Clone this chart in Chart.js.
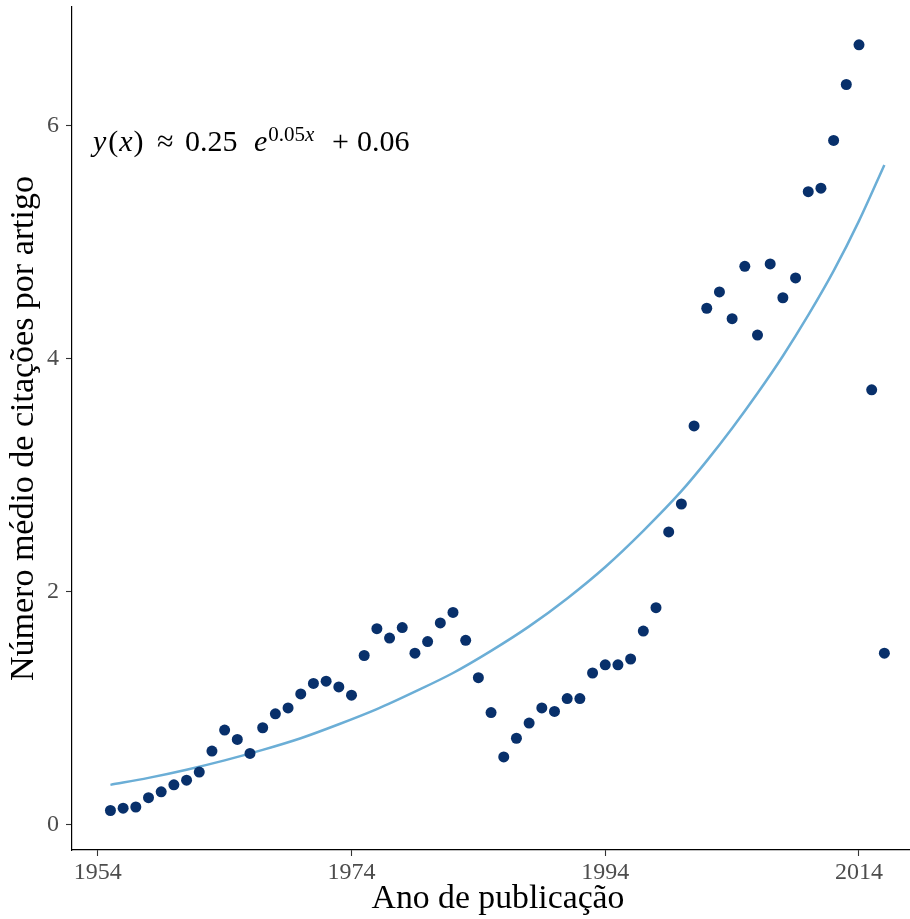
<!DOCTYPE html>
<html>
<head>
<meta charset="utf-8">
<script src="https://cdn.jsdelivr.net/npm/chart.js@4.4.1/dist/chart.umd.min.js"></script>
<style>
  html, body { margin: 0; padding: 0; background: #fff; }
  #citChart { display: block; }
</style>
</head>
<body>
<canvas id="citChart" width="910" height="919"></canvas>
<script>
const years = [
  1955, 1956, 1957, 1958, 1959, 1960, 1961, 1962, 1963, 1964,
  1965, 1966, 1967, 1968, 1969, 1970, 1971, 1972, 1973, 1974,
  1975, 1976, 1977, 1978, 1979, 1980, 1981, 1982, 1983, 1984,
  1985, 1986, 1987, 1988, 1989, 1990, 1991, 1992, 1993, 1994,
  1995, 1996, 1997, 1998, 1999, 2000, 2001, 2002, 2003, 2004,
  2005, 2006, 2007, 2008, 2009, 2010, 2011, 2012, 2013, 2014,
  2015, 2016
];
const meanCitations = [
  0.12, 0.14, 0.15, 0.23, 0.28, 0.34, 0.38, 0.45, 0.63, 0.81,
  0.73, 0.61, 0.83, 0.95, 1.00, 1.12, 1.21, 1.23, 1.18, 1.11,
  1.45, 1.68, 1.60, 1.69, 1.47, 1.57, 1.73, 1.82, 1.58, 1.26,
  0.96, 0.58, 0.74, 0.87, 1.00, 0.97, 1.08, 1.08, 1.30, 1.37,
  1.37, 1.42, 1.66, 1.86, 2.51, 2.75, 3.42, 4.43, 4.57, 4.34,
  4.79, 4.20, 4.81, 4.52, 4.69, 5.43, 5.46, 5.87, 6.35, 6.69,
  3.73, 1.47
];

// fitted exponential trend
const fitYears = [
  1955, 1958, 1961, 1964, 1967, 1970, 1973, 1976, 1979, 1982,
  1985, 1988, 1991, 1994, 1997, 2000, 2002, 2004, 2006, 2008,
  2010, 2012, 2014, 2016
];
const fitValues = [
  0.34, 0.40, 0.47, 0.55, 0.64, 0.74, 0.86, 0.99, 1.14, 1.30,
  1.49, 1.70, 1.94, 2.21, 2.52, 2.86, 3.12, 3.40, 3.70, 4.02,
  4.37, 4.75, 5.18, 5.66
];

const xTicks = [1954, 1974, 1994, 2014];
const yTicks = [0, 2, 4, 6];

const SERIF = '"Liberation Serif", "DejaVu Serif", serif';

const scatterPoints = years.map((y, i) => ({ x: y, y: meanCitations[i] }));
const fitPoints = fitYears.map((y, i) => ({ x: y, y: fitValues[i] }));

// font size giving a text the requested width
function fitFont(ctx, text, width) {
  ctx.font = `100px ${SERIF}`;
  return 100 * width / ctx.measureText(text).width;
}

// y(x) ≈ 0.25 e^{0.05x} + 0.06
function drawEquation(ctx, base) {
  let cx = 0;
  const put = (text, x, italic, size, dy) => {
    if (x !== null) cx = x;
    ctx.font = `${italic ? 'italic ' : ''}${size}px ${SERIF}`;
    ctx.fillText(text, cx, base + (dy || 0));
    cx += ctx.measureText(text).width;
  };
  put('y', 93, true, 30);
  put('(', cx + 2, false, 30);
  put('x', cx + 1, true, 30);
  put(')', cx + 1, false, 30);
  put('\u2248', 157, false, 30);
  put('0.25', 185, false, 30);
  put('e', 254, true, 30);
  put('0.05', cx + 1, false, 21, -10);
  put('x', cx, true, 21, -10);
  put('+', 332, false, 30);
  put('0.06', 357, false, 30);
}

const labelsPlugin = {
  id: 'labelsPlugin',
  afterDraw(chart) {
    const ctx = chart.ctx;
    const area = chart.chartArea;
    ctx.save();
    ctx.fillStyle = '#000';
    ctx.textBaseline = 'alphabetic';

    const xTitle = 'Ano de publicação';
    ctx.font = `${fitFont(ctx, xTitle, 253)}px ${SERIF}`;
    ctx.textAlign = 'center';
    ctx.fillText(xTitle, 498, 908);

    const yTitle = 'Número médio de citações por artigo';
    ctx.font = `${fitFont(ctx, yTitle, 505)}px ${SERIF}`;
    ctx.save();
    ctx.translate(33, (area.top + area.bottom) / 2);
    ctx.rotate(-Math.PI / 2);
    ctx.fillText(yTitle, 0, 0);
    ctx.restore();

    ctx.textAlign = 'left';
    drawEquation(ctx, 151);
    ctx.restore();
  }
};

new Chart(document.getElementById('citChart').getContext('2d'), {
  type: 'scatter',
  data: {
    datasets: [
      {
        label: 'ajuste',
        data: fitPoints,
        showLine: true,
        cubicInterpolationMode: 'monotone',
        borderColor: '#6BAED6',
        borderWidth: 2.5,
        pointRadius: 0,
        order: 2
      },
      {
        label: 'média',
        data: scatterPoints,
        backgroundColor: '#08306B',
        borderWidth: 0,
        pointRadius: 5.5,
        order: 1
      }
    ]
  },
  options: {
    responsive: false,
    animation: false,
    events: [],
    layout: { autoPadding: false, padding: { top: 7, left: 0, right: 0, bottom: 0 } },
    plugins: {
      legend: { display: false },
      tooltip: { enabled: false }
    },
    scales: {
      x: {
        type: 'linear',
        min: 1951.97,
        max: 2018.02,
        afterBuildTicks: (scale) => { scale.ticks = xTicks.map(v => ({ value: v })); },
        afterFit: (scale) => {
          scale.height = 69;
          scale.paddingLeft = 0;
          scale.paddingRight = 0;
        },
        border: { display: true, color: '#000', width: 1.2 },
        grid: { drawOnChartArea: false, drawTicks: true, tickLength: 6, tickColor: '#333', tickWidth: 1.1 },
        ticks: {
          maxRotation: 0,
          padding: 2,
          color: '#4D4D4D',
          font: { family: SERIF, size: 24 },
          callback: (v) => String(v)
        }
      },
      y: {
        type: 'linear',
        min: -0.219,
        max: 7.015,
        afterBuildTicks: (scale) => { scale.ticks = yTicks.map(v => ({ value: v })); },
        afterFit: (scale) => {
          scale.width = 72;
          scale.paddingTop = 0;
          scale.paddingBottom = 0;
        },
        border: { display: true, color: '#000', width: 1.2 },
        grid: { drawOnChartArea: false, drawTicks: true, tickLength: 6, tickColor: '#333', tickWidth: 1.1 },
        ticks: {
          padding: 7,
          color: '#4D4D4D',
          font: { family: SERIF, size: 24 },
          callback: (v) => String(v)
        }
      }
    }
  },
  plugins: [labelsPlugin]
});
</script>
</body>
</html>
